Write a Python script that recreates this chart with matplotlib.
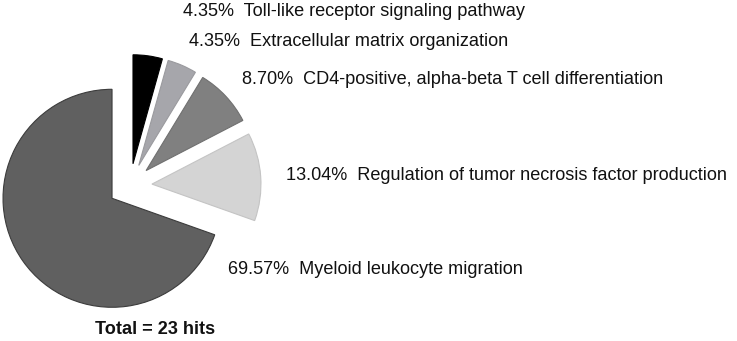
import matplotlib
matplotlib.use("Agg")
import matplotlib.pyplot as plt

# Data (counts of hits per GO term)
categories = [
    "Myeloid leukocyte migration",
    "Regulation of tumor necrosis factor production",
    "CD4-positive, alpha-beta T cell differentiation",
    "Extracellular matrix organization",
    "Toll-like receptor signaling pathway",
]
counts = [16, 3, 2, 1, 1]
total = sum(counts)

colors = ["#606060", "#d4d4d4", "#808080", "#a6a6ab", "#000000"]
edges = ["#3c3c3c", "#c4c4c4", "#707070", "#9a9a9e", "#000000"]

W, H = 737, 341
fig = plt.figure(figsize=(W / 100, H / 100), dpi=100)
ax = fig.add_axes([0, 0, 1, 1])

cx, cy = 130, H - 185.6
R = 109
wedges, _ = ax.pie(counts, colors=colors, startangle=90, counterclock=True,
                   radius=R, center=(cx, cy), explode=[22] * len(counts),
                   wedgeprops=dict(linewidth=0.8))
for w, ec in zip(wedges, edges):
    w.set_edgecolor(ec)

ax.set_xlim(0, W)
ax.set_ylim(0, H)
ax.set_aspect("auto")
ax.axis("off")

font = dict(family=["Liberation Sans", "DejaVu Sans"], fontsize=13.1, color="#111111")
# label anchor positions (left x, center y in image pixels)
label_pos = [(228, 270), (286, 175), (242, 79), (189, 42), (183, 12)]
for name, c, (lx, ly) in zip(categories, counts, label_pos):
    ax.text(lx, H - ly, f"{100 * c / total:.2f}%  {name}", ha="left", va="center", **font)

ax.text(155, H - 329, f"Total = {total} hits", ha="center", va="center",
        fontweight="bold", **font)

fig.savefig("out.png", dpi=100)
